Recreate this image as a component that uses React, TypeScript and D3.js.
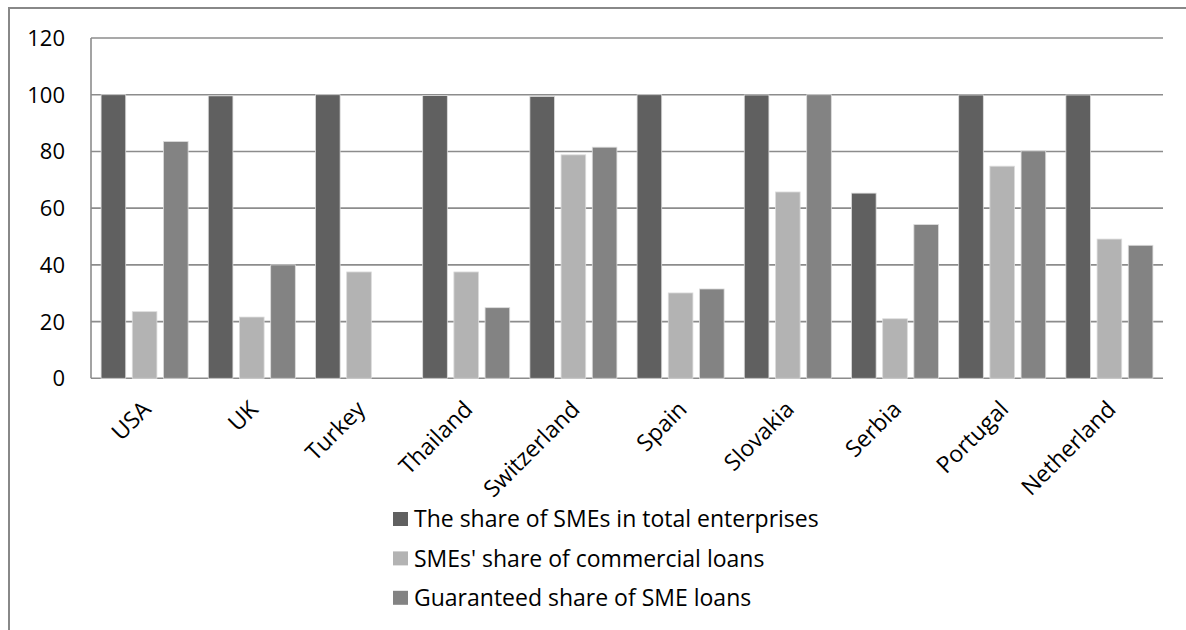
import React from "react";
import * as d3 from "d3";

const categories = ["USA", "UK", "Turkey", "Thailand", "Switzerland", "Spain", "Slovakia", "Serbia", "Portugal", "Netherland"];
const seriesNames = [
  "The share of SMEs in total enterprises",
  "SMEs' share of commercial loans",
  "Guaranteed share of SME loans",
];
const shareOfEnterprises = [100, 99.6, 100, 99.7, 99.4, 100, 99.9, 65.3, 99.9, 99.9];
const shareOfLoans = [23.5, 21.6, 37.5, 37.5, 78.8, 30.1, 65.7, 21.0, 74.8, 49.1];
const guaranteedShare = [83.5, 40.0, null, 24.9, 81.5, 31.5, 100, 54.2, 80.2, 46.9];
const yTicks = [0, 20, 40, 60, 80, 100, 120];
const seriesColors = ["#606060", "#b3b3b3", "#838383"];

const W = 1186;
const H = 630;
const FONT = "'Open Sans', sans-serif";

export default function App() {
  const seriesValues = [shareOfEnterprises, shareOfLoans, guaranteedShare];
  const x0 = d3.scaleBand<string>().domain(categories).range([91, 1163]).padding(0);
  const x1 = d3
    .scaleBand<string>()
    .domain(seriesNames)
    .range([0, x0.bandwidth()])
    .paddingInner(0.21)
    .paddingOuter(0.323);
  const y = d3.scaleLinear().domain([0, 120]).range([378.3, 38]);

  return (
    <svg
      width={W}
      height={H}
      style={{ position: "absolute", left: 0, top: 0, background: "#fff" }}
      fontFamily={FONT}
    >
      <rect x={9} y={8} width={1300} height={700} fill="#fff" stroke="#888" strokeWidth={2} />
      {/* gridlines */}
      {yTicks.map((t) => (
        <line key={t} x1={91} x2={1163} y1={y(t)} y2={y(t)} stroke="#8c8c8c" strokeWidth={1.6} />
      ))}
      <line x1={91} x2={91} y1={y(120)} y2={y(0)} stroke="#8c8c8c" strokeWidth={1.6} />
      {/* y tick labels */}
      {yTicks.map((t) => (
        <text key={t} x={65} y={y(t)} dy="0.36em" textAnchor="end" fontSize={22} fill="#000">
          {t}
        </text>
      ))}
      {/* bars */}
      {categories.map((c, i) => (
        <g key={c} transform={`translate(${x0(c)},0)`}>
          {seriesNames.map((s, j) => {
            const v = seriesValues[j][i];
            if (v == null) return null;
            return (
              <rect
                key={s}
                x={x1(s)}
                y={y(v)}
                width={x1.bandwidth()}
                height={y(0) - y(v)}
                fill={seriesColors[j]}
                stroke="#dcdcdc"
                strokeWidth={0.8}
              />
            );
          })}
        </g>
      ))}
      {/* x labels */}
      {categories.map((c) => {
        const cx = (x0(c) as number) + x0.bandwidth() / 2 - 4;
        return (
          <text
            key={c}
            transform={`translate(${cx},399) rotate(-45)`}
            textAnchor="end"
            dy="0.72em"
            fontSize={23}
            fill="#000"
          >
            {c}
          </text>
        );
      })}
      {/* legend */}
      {seriesNames.map((s, j) => {
        const cy = 519 + j * 39.4;
        return (
          <g key={s}>
            <rect x={393} y={cy - 7} width={15} height={14} fill={seriesColors[j]} />
            <text x={414} y={cy} dy="0.36em" fontSize={23} fill="#000">
              {s}
            </text>
          </g>
        );
      })}
    </svg>
  );
}
